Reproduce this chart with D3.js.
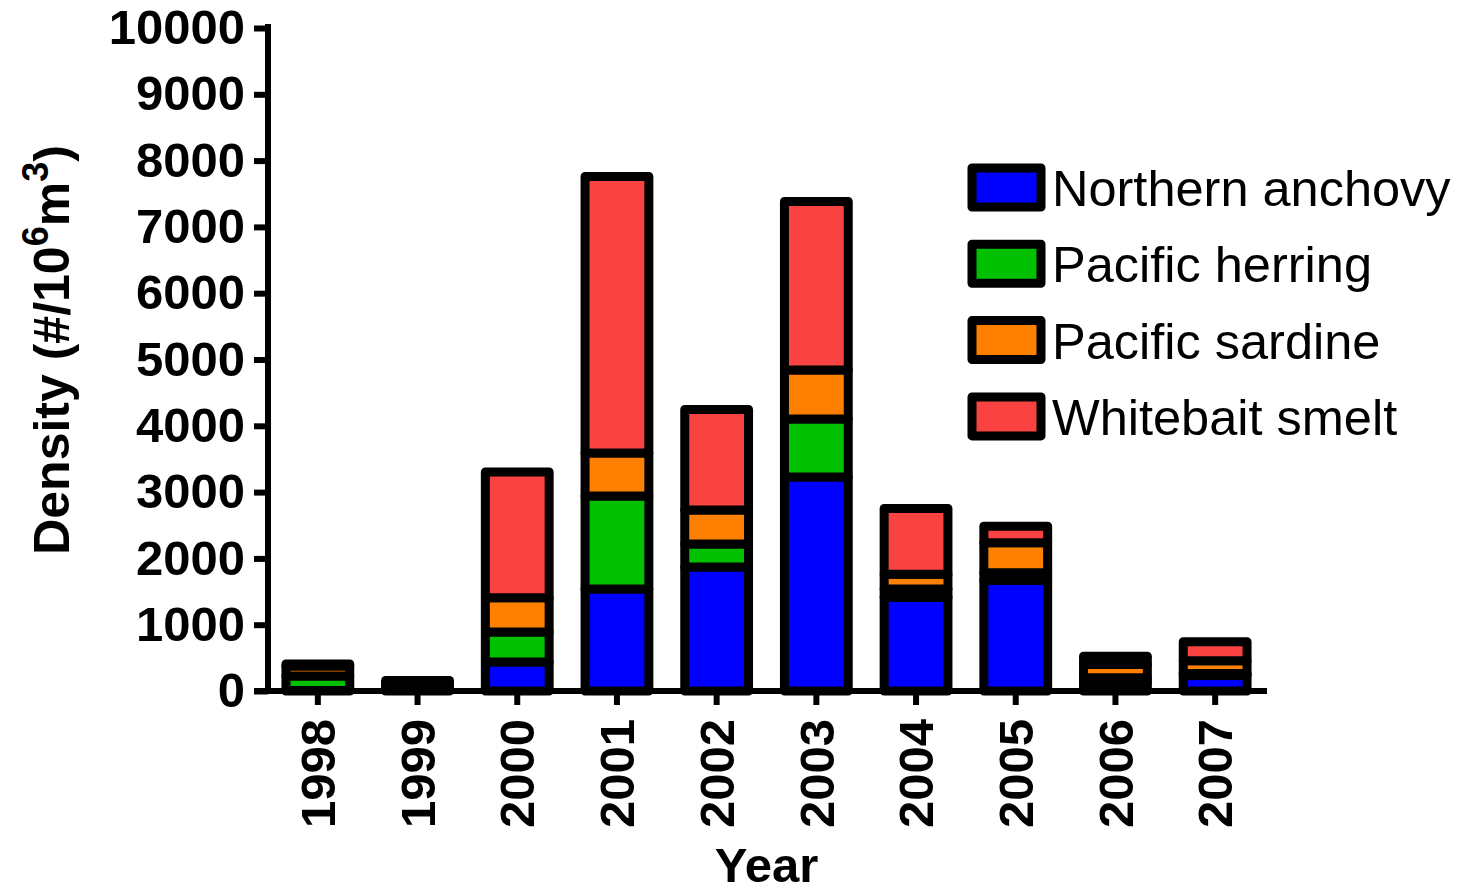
<!DOCTYPE html>
<html>
<head>
<meta charset="utf-8">
<script src="https://cdn.jsdelivr.net/npm/d3@7/dist/d3.min.js"></script>
<style>
  html, body { margin: 0; padding: 0; background: #fff; }
  svg { display: block; }
  text { font-family: "Liberation Sans", Arial, Helvetica, sans-serif; }
</style>
</head>
<body>
<svg id="chart" width="1460" height="892"></svg>
<script>
// Fish larvae density by year, stacked by species
const years = ["1998", "1999", "2000", "2001", "2002", "2003", "2004", "2005", "2006", "2007"];
const species = ["Northern anchovy", "Pacific herring", "Pacific sardine", "Whitebait smelt"];
const anchovy  = [8,   50,  437, 1540, 1870, 3228, 1415, 1667, 128, 234];
const herring  = [220, 55,  453, 1400, 347,  875,  123,  116,  71,  30];
const sardine  = [150, 20,  517, 650,  513,  739,  222,  452,  200, 191];
const smelt    = [30,  33,  1896, 4170, 1516, 2541, 993,  250,  125, 287];
const yTicks = [0, 1000, 2000, 3000, 4000, 5000, 6000, 7000, 8000, 9000, 10000];
const colors = ["#0000ff", "#00c000", "#ff8000", "#f94343"];

const seriesValues = [anchovy, herring, sardine, smelt];
const rows = years.map((yr, i) => {
  const r = { year: yr };
  species.forEach((s, k) => { r[s] = seriesValues[k][i]; });
  return r;
});

const svg = d3.select("#chart");
const plotLeft = 268, plotRight = 1265, plotTop = 28, plotBottom = 691;

const x = d3.scaleBand().domain(years).range([plotLeft, plotRight]).padding(0.36).paddingOuter(0.18);
const y = d3.scaleLinear().domain([0, 10000]).range([plotBottom, plotTop]);
const color = d3.scaleOrdinal().domain(species).range(colors);

const stacked = d3.stack().keys(species)(rows);

// Stacked bars
const barG = svg.append("g");
stacked.forEach(layer => {
  barG.append("g")
    .selectAll("rect")
    .data(layer)
    .join("rect")
      .attr("x", d => x(d.data.year))
      .attr("width", x.bandwidth())
      .attr("y", d => y(d[1]))
      .attr("height", d => y(d[0]) - y(d[1]))
      .attr("fill", color(layer.key))
      .attr("stroke", "#000")
      .attr("stroke-width", 9)
      .attr("stroke-linejoin", "round");
});

// Y axis
const yAxis = d3.axisLeft(y).tickValues(yTicks).tickSize(14).tickPadding(9).tickFormat(d3.format("d"));
const yG = svg.append("g").attr("transform", `translate(${plotLeft},0)`).call(yAxis);
yG.select(".domain").attr("stroke-width", 6).attr("d", `M0,${plotTop - 4}V${plotBottom}`);
yG.selectAll(".tick line").attr("stroke-width", 6);
yG.selectAll(".tick text")
  .attr("font-size", 49).attr("font-weight", "bold").attr("fill", "#000")
  .attr("font-family", "'Liberation Sans', Arial, sans-serif");

// X axis
const xAxis = d3.axisBottom(x).tickSize(14).tickPadding(16);
const xG = svg.append("g").attr("transform", `translate(0,${plotBottom})`).call(xAxis);
xG.select(".domain").attr("stroke-width", 6).attr("d", `M${plotLeft - 14},0H${plotRight + 2}`);
xG.selectAll(".tick line").attr("stroke-width", 6);
xG.selectAll(".tick text")
  .attr("font-size", 49).attr("font-weight", "bold").attr("fill", "#000")
  .attr("font-family", "'Liberation Sans', Arial, sans-serif")
  .attr("text-anchor", "end")
  .attr("dy", "0.35em")
  .attr("transform", "rotate(-90)")
  .attr("x", -28).attr("y", 0);

// Axis titles
svg.append("text")
  .attr("x", (plotLeft + plotRight) / 2).attr("y", 882)
  .attr("text-anchor", "middle")
  .attr("font-size", 49).attr("font-weight", "bold")
  .text("Year");

const yTitle = svg.append("text")
  .attr("transform", "translate(69,350) rotate(-90)")
  .attr("text-anchor", "middle")
  .attr("font-size", 50).attr("font-weight", "bold");
yTitle.append("tspan").text("Density (#/10");
yTitle.append("tspan").attr("font-size", 36).attr("dy", -21).text("6");
yTitle.append("tspan").attr("dy", 21).text("m");
yTitle.append("tspan").attr("font-size", 36).attr("dy", -21).text("3");
yTitle.append("tspan").attr("dy", 21).text(")");

// Legend
const legend = svg.append("g").attr("transform", "translate(972,168)");
const item = legend.selectAll("g").data(species).join("g")
  .attr("transform", (d, i) => `translate(0,${i * 76.3})`);
item.append("rect")
  .attr("width", 69).attr("height", 39)
  .attr("fill", d => color(d))
  .attr("stroke", "#000").attr("stroke-width", 9)
  .attr("stroke-linejoin", "round");
item.append("text")
  .attr("x", 80).attr("y", 38)
  .attr("font-size", 50.5)
  .text(d => d);
</script>
</body>
</html>
